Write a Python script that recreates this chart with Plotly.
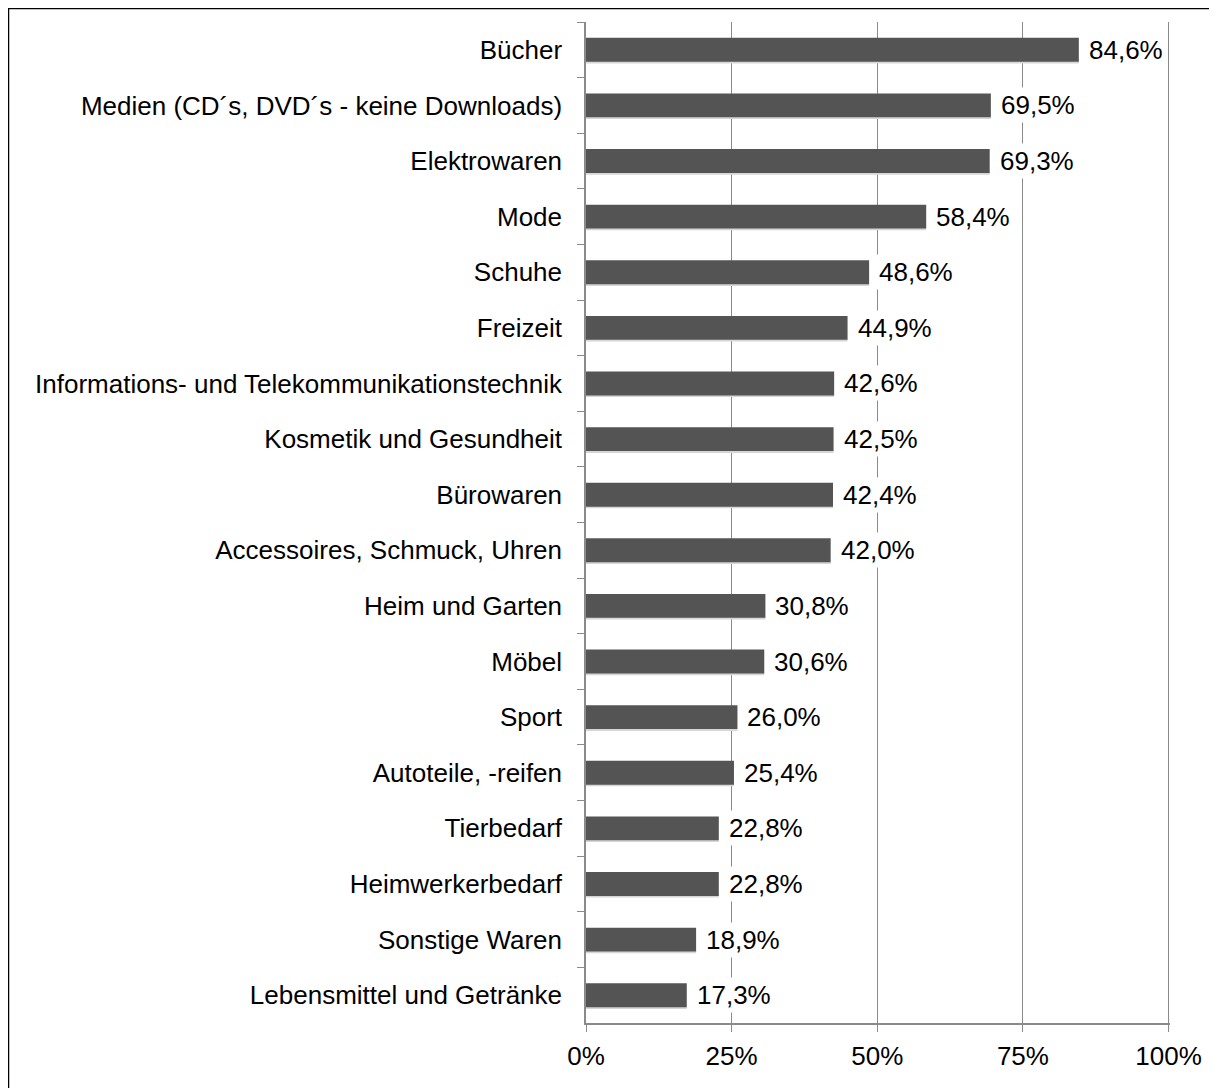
import plotly.graph_objects as go

categories = [
    "Bücher",
    "Medien (CD´s, DVD´s - keine Downloads)",
    "Elektrowaren",
    "Mode",
    "Schuhe",
    "Freizeit",
    "Informations- und Telekommunikationstechnik",
    "Kosmetik und Gesundheit",
    "Bürowaren",
    "Accessoires, Schmuck, Uhren",
    "Heim und Garten",
    "Möbel",
    "Sport",
    "Autoteile, -reifen",
    "Tierbedarf",
    "Heimwerkerbedarf",
    "Sonstige Waren",
    "Lebensmittel und Getränke",
]
values = [84.6, 69.5, 69.3, 58.4, 48.6, 44.9, 42.6, 42.5, 42.4, 42.0,
          30.8, 30.6, 26.0, 25.4, 22.8, 22.8, 18.9, 17.3]
x_ticks = [0, 25, 50, 75, 100]
x_tick_labels = ["0%", "25%", "50%", "75%", "100%"]

# page is offset by the body margin (8px)
OFF = 8
W, H = 1217 - OFF, 1088 - OFF
plot_left, plot_right, plot_top, plot_bottom = 586 - OFF, 1170 - OFF, 22 - OFF, 1023 - OFF
ml, mr, mt, mb = plot_left, W - plot_right, plot_top, H - plot_bottom
pw = plot_right - plot_left
ph = plot_bottom - plot_top
FONT = "Liberation Sans, Arial, sans-serif"
FS = 26
BW = 0.43

fig = go.Figure()
# soft shadow under each bar
fig.add_trace(go.Bar(
    x=values, y=categories, orientation="h",
    width=0.03, offset=BW / 2,
    marker=dict(color="#d6d6d6", line=dict(width=0)),
    hoverinfo="skip",
))
# main bar
fig.add_trace(go.Bar(
    x=values, y=categories, orientation="h",
    width=BW, offset=-BW / 2,
    marker=dict(color="#545454", line=dict(width=0)),
    hoverinfo="x+y",
))

for c, v in zip(categories, values):
    fig.add_annotation(
        x=v, y=c, xref="x", yref="y",
        text=f"{v:.1f}".replace(".", ",") + "%",
        showarrow=False, xanchor="left", yanchor="middle",
        xshift=7, bgcolor="white", borderpad=2,
        font=dict(family=FONT, size=FS, color="black"),
    )

def px_x(p):  # page pixel -> paper x
    return (p - OFF - plot_left) / pw

def px_y(p):  # page pixel -> paper y
    return (plot_bottom - (p - OFF)) / ph

fig.add_shape(
    type="rect", xref="paper", yref="paper",
    x0=px_x(8.5), x1=px_x(1240),
    y0=px_y(1110), y1=px_y(8.5),
    line=dict(color="black", width=1.5), fillcolor="rgba(0,0,0,0)",
    layer="above",
)

fig.update_layout(
    width=W, height=H,
    margin=dict(l=ml, r=mr, t=mt, b=mb, pad=0),
    paper_bgcolor="white", plot_bgcolor="white",
    showlegend=False, barmode="overlay",
    font=dict(family=FONT, size=FS, color="black"),
    xaxis=dict(
        range=[0, 100.25], tickvals=x_ticks, ticktext=x_tick_labels,
        showgrid=True, gridcolor="#8a8a8a", gridwidth=1.3,
        showline=True, linecolor="#8a8a8a", linewidth=1.5,
        ticks="outside", ticklen=7, tickcolor="#8a8a8a", tickwidth=1.3,
        zeroline=False, fixedrange=True,
        ticklabelstandoff=2,
        tickfont=dict(family=FONT, size=FS, color="black"),
    ),
    yaxis=dict(
        type="category", autorange="reversed",
        categoryorder="array", categoryarray=categories,
        showgrid=False, zeroline=False,
        showline=True, linecolor="#8a8a8a", linewidth=1.5,
        ticks="outside", tickson="boundaries", ticklen=7,
        tickcolor="#8a8a8a", tickwidth=1.3,
        ticklabelstandoff=17,
        tickfont=dict(family=FONT, size=FS, color="black"),
        fixedrange=True,
    ),
)

fig.write_html("out.html")
